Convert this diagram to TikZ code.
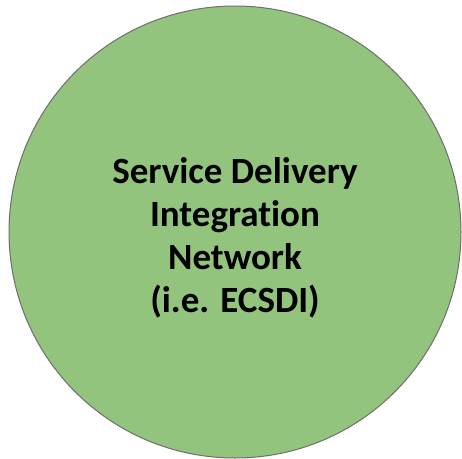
\documentclass[tikz,border=0pt]{standalone}
\usepackage{fontspec}
\setmainfont{Carlito}[Ligatures=NoCommon]
\definecolor{netgreen}{HTML}{93C47D}
\definecolor{netedge}{HTML}{6E6E6E}
\tikzset{netcircle/.style={circle, draw=netedge, fill=netgreen, line width=1pt, minimum size=452pt, inner sep=0pt},
  nettext/.style={align=center, font=\fontsize{37}{43}\selectfont\bfseries}}

\begin{document}
\begin{tikzpicture}[x=1pt, y=1pt]
\useasboundingbox (0,0) rectangle (462,-458);
% 网络
\node[netcircle] (ecsdi) at (235,-232) {};
%Text
\node[nettext] (label) at (235,-238) {Service Delivery\\Integration\\Network\\(i.e. ECSDI)};
\end{tikzpicture}
\end{document}
